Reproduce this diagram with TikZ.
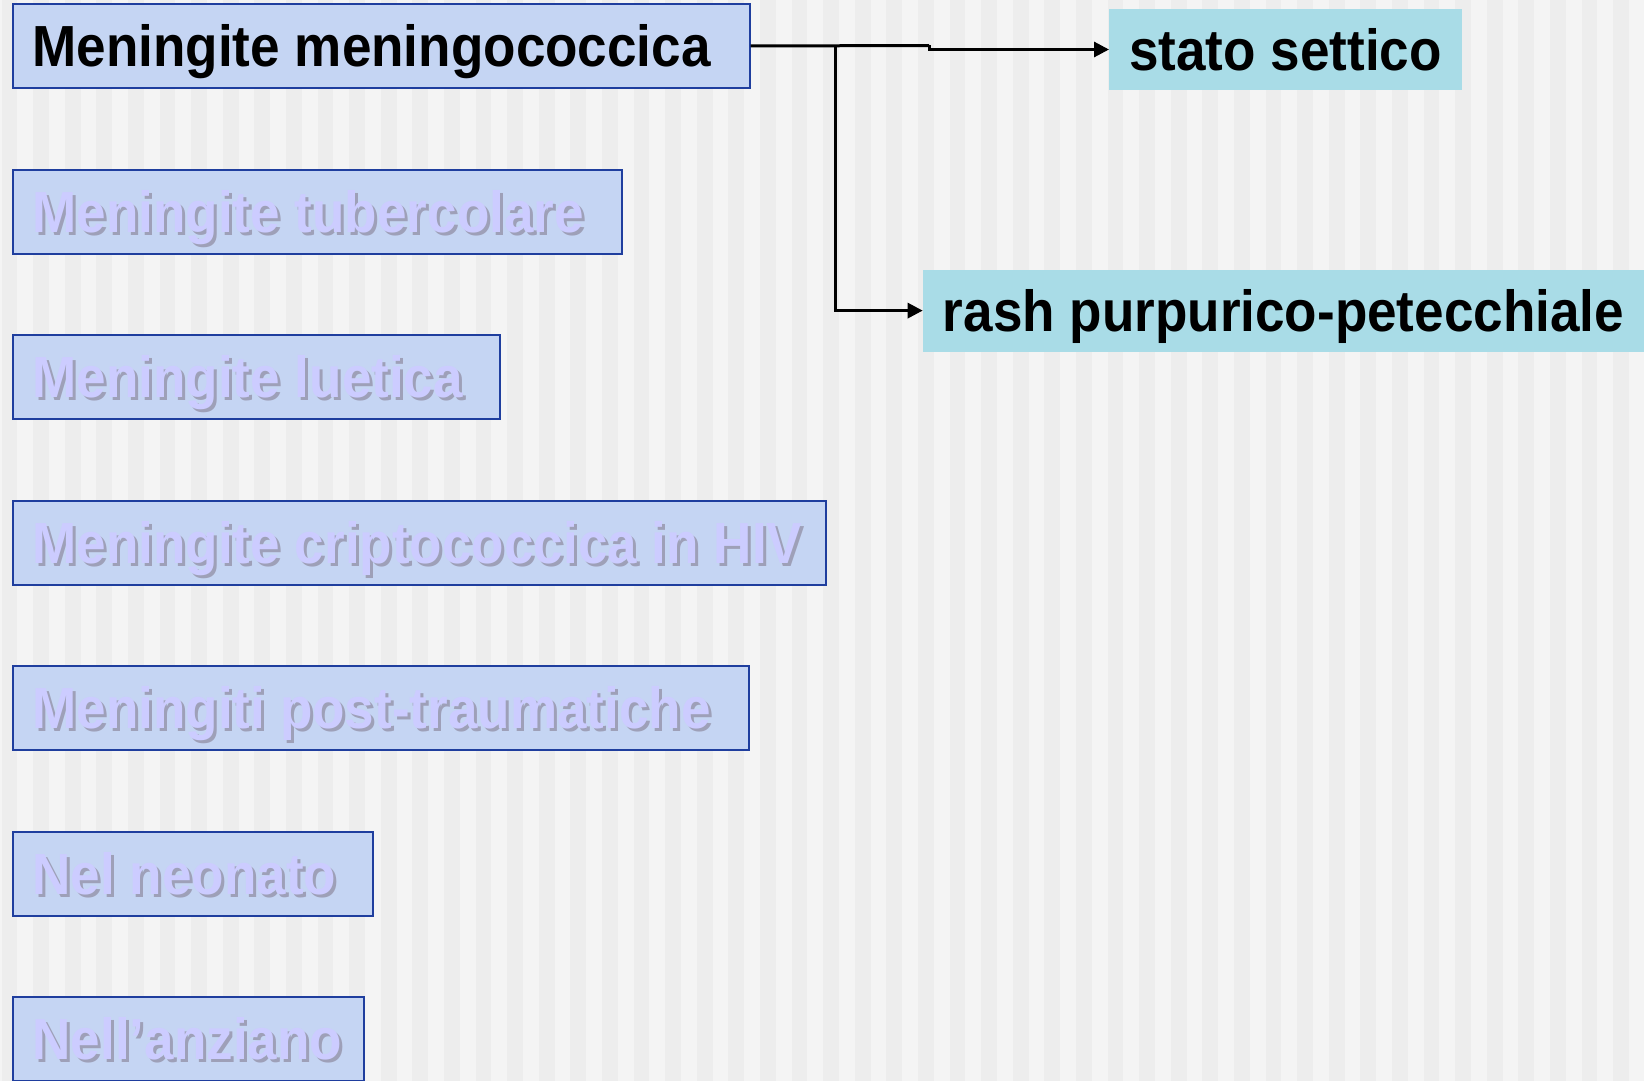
\documentclass[tikz,border=0pt]{standalone}
\usepackage{fontspec}
\setmainfont{Liberation Sans}[FakeStretch=0.915]
\usetikzlibrary{arrows.meta}

\definecolor{borderBlue}{HTML}{1F3E9E}
\definecolor{boxFill}{HTML}{C5D5F3}
\definecolor{tealFill}{HTML}{A9DCE7}
\definecolor{fadeText}{HTML}{CCCCFF}
\definecolor{shadowGrey}{HTML}{9EA0B8}
\definecolor{stripeLight}{HTML}{F4F4F4}
\definecolor{stripeDark}{HTML}{EDEDED}

% faded label with a small drop shadow
\newcommand{\fadedlabel}[1]{\makebox[0pt][l]{\hspace{3pt}\raisebox{-3pt}{\color{shadowGrey}#1}}{\color{fadeText}#1}}

\begin{document}
\begin{tikzpicture}[x=1pt, y=-1pt,
    box/.style={draw=borderBlue, line width=2pt, fill=boxFill, anchor=north west,
        inner xsep=20pt, inner ysep=21.25pt, text height=41.5pt, text depth=0pt,
        font=\fontsize{58}{60}\selectfont\bfseries},
    tealbox/.style={fill=tealFill, anchor=north west,
        inner xsep=20pt, inner ysep=20.15pt, text height=41.5pt, text depth=0pt,
        font=\fontsize{58}{60}\selectfont\bfseries},
    connector/.style={line width=3pt, -{Triangle[length=15pt, width=15pt]}}]

    \useasboundingbox (0,0) rectangle (1644,1081);

    % Striped background
    \fill[stripeLight] (0,0) rectangle (1644,1081);
    \foreach \k in {0,...,51}
        \fill[stripeDark] (1.6+31.6*\k,0) rectangle (17.4+31.6*\k,1081);

    % Highlighted form
    \node[box] (menMeningo) at (11.5,3) {\makebox[697pt][l]{Meningite meningococcica}};

    % Faded forms
    \foreach \i/\w/\txt in {1/569/Meningite tubercolare,
                            2/447.5/Meningite luetica,
                            3/773.5/Meningite criptococcica in HIV,
                            4/696/Meningiti post-traumatiche,
                            5/320.5/Nel neonato,
                            6/311.3/Nell’anziano}
        \node[box] (form\i) at (11.5,3+165.5*\i) {\makebox[\w pt][l]{\fadedlabel{\txt}}};

    % Consequences
    \node[tealbox] (stato) at (1109,8.4) {\makebox[312.6pt][l]{stato settico}};
    \node[tealbox] (rash) at (922.7,269.5) {\makebox[681.3pt][l]{rash purpurico-petecchiale}};

    % Connectors
    \coordinate (split) at (835.6,45.5);
    \coordinate (jog) at (929,45.5);
    \draw[line width=3pt] (menMeningo.east) -- (jog);
    \draw[connector] (jog) |- (stato.west);
    \draw[connector] (split) |- (rash.west);

\end{tikzpicture}
\end{document}
